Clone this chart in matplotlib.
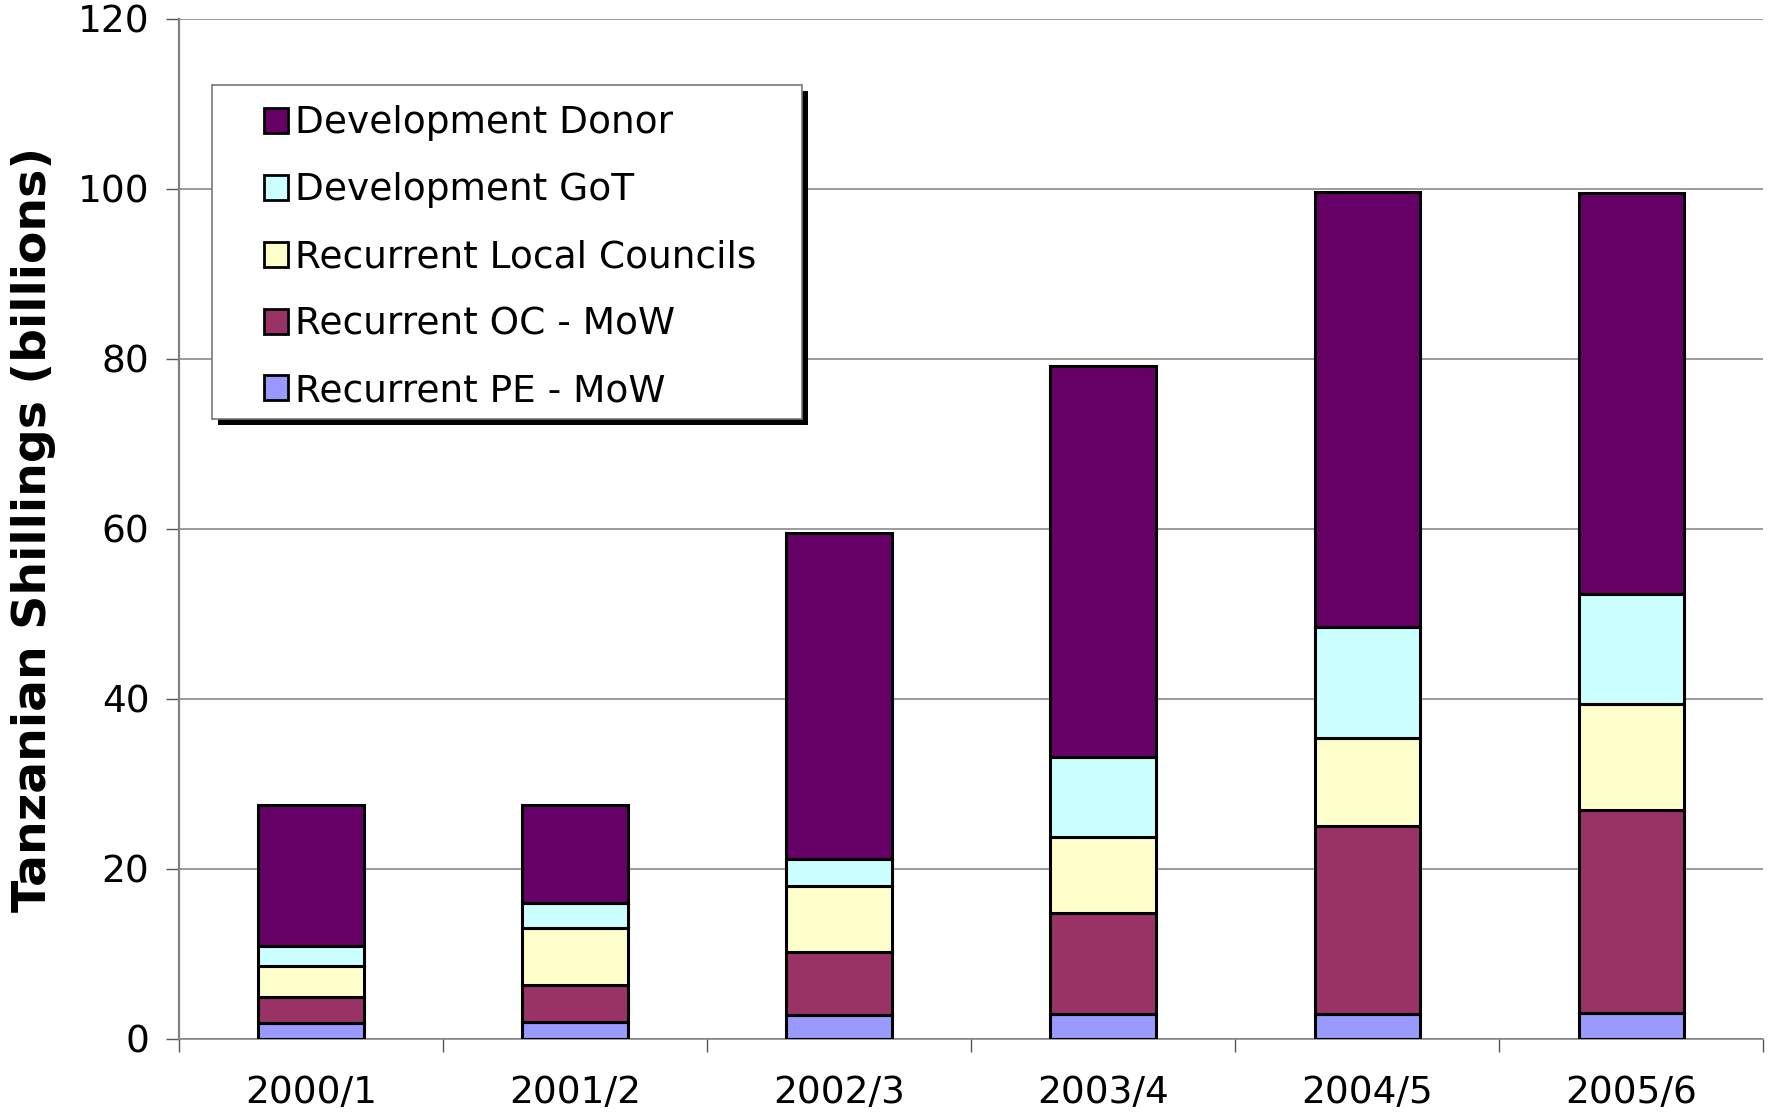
import numpy as np
import matplotlib
matplotlib.use('Agg')
import matplotlib.pyplot as plt
from matplotlib.patches import Rectangle

anios = ['2000/1', '2001/2', '2002/3', '2003/4', '2004/5', '2005/6']
pe_mow = [1.9, 2.0, 2.8, 2.9, 2.9, 3.0]
oc_mow = [3.0, 4.4, 7.4, 11.9, 22.1, 23.9]
local_councils = [3.7, 6.7, 7.8, 9.0, 10.4, 12.5]
dev_got = [2.3, 2.9, 3.2, 9.4, 13.1, 12.9]
dev_donor = [16.6, 11.5, 38.3, 46.0, 51.1, 47.2]

series = [
    ('Recurrent PE - MoW', pe_mow, '#9999FF'),
    ('Recurrent OC - MoW', oc_mow, '#993366'),
    ('Recurrent Local Councils', local_councils, '#FFFFCC'),
    ('Development GoT', dev_got, '#CCFFFF'),
    ('Development Donor', dev_donor, '#660066'),
]

fig = plt.figure(figsize=(17.74, 11.13), dpi=100)
ax = fig.add_axes([0.101, 0.0665, 0.893, 0.9165])

x = np.arange(len(anios))
base = np.zeros(len(anios))
barras = []
for nombre, valores, color in series:
    b = ax.bar(x, valores, 0.40, bottom=base, color=color, edgecolor='black',
               linewidth=2.2, label=nombre, zorder=3)
    barras.append(b)
    base += np.array(valores)

ax.set_xlim(-0.5, 5.5)
ax.set_ylim(0, 120)
ax.set_yticks(range(0, 121, 20))
ax.set_xticks(x)
ax.set_xticklabels(anios)
ax.set_xticks(np.arange(-0.5, 6, 1), minor=True)
ax.tick_params(axis='x', which='major', length=0, pad=26, labelsize=27)
ax.tick_params(axis='x', which='minor', length=9.5, width=1, color='#555555', direction='out')
ax.tick_params(axis='y', length=9.5, width=1, color='#555555', pad=12, labelsize=27)

ax.yaxis.grid(True, color='#808080', linewidth=1.1, zorder=0)
ax.set_axisbelow(True)
for lado in ['top', 'right']:
    ax.spines[lado].set_visible(False)
ax.spines['left'].set_color('#808080')
ax.spines['left'].set_linewidth(1.6)
ax.spines['bottom'].set_color('#808080')
ax.spines['bottom'].set_linewidth(1.1)

fig.text(0.019, 1 - 529 / 1113, 'Tanzanian Shillings (billions)', rotation=90,
         ha='center', va='center', fontsize=34, fontweight='bold')

# leyenda en orden inverso como en el original, marco dibujado aparte
handles = barras[::-1]
labels = [s[0] for s in series][::-1]
leg = fig.legend(handles, labels, loc='upper left', bbox_to_anchor=(0.1486, 0.9053),
                 fontsize=27, frameon=False,
                 handlelength=0.65, handleheight=0.65, handletextpad=0.2,
                 labelspacing=0.825, borderpad=0, borderaxespad=0)
leg.set_zorder(5)
for h in leg.legend_handles:
    h.set_linewidth(2.0)

fig.canvas.draw()
bb = leg.get_window_extent()
x0 = bb.x0 - 52
x1 = bb.x1 + 45
y0 = bb.y0 - 10
y1 = bb.y1 + 20.5
sombra = Rectangle((x0 + 6, y0 - 6), x1 - x0, y1 - y0, transform=None,
                   facecolor='black', edgecolor='none', zorder=3)
marco = Rectangle((x0, y0), x1 - x0, y1 - y0, transform=None,
                  facecolor='white', edgecolor='#777777', linewidth=1.2, zorder=4)
for p in (sombra, marco):
    p.set_figure(fig)
    fig.patches.append(p)

fig.savefig('out.png', dpi=100)
